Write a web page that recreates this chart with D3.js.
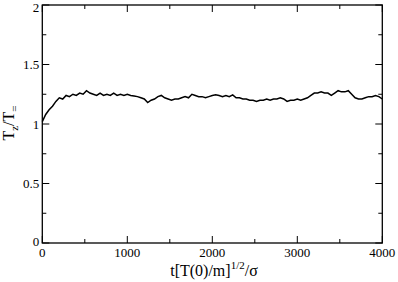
<!DOCTYPE html>
<html><head><meta charset="utf-8">
<script src="https://cdn.jsdelivr.net/npm/d3@7"></script>
<style>body{margin:0;background:#fff}</style>
</head><body><svg id="c" width="398" height="282"></svg>
<script>
const tStep = 40;
const tzValues = [1.02,1.08,1.12,1.15,1.19,1.22,1.21,1.24,1.23,1.25,1.24,1.26,1.25,1.28,1.26,1.25,1.24,1.26,1.24,1.25,
1.24,1.26,1.24,1.25,1.24,1.25,1.24,1.235,1.23,1.22,1.21,1.18,1.20,1.21,1.23,1.24,1.22,1.21,1.20,1.21,
1.21,1.22,1.23,1.22,1.25,1.24,1.23,1.23,1.22,1.23,1.24,1.245,1.24,1.23,1.24,1.23,1.245,1.22,1.22,1.21,
1.21,1.20,1.20,1.19,1.20,1.20,1.21,1.20,1.21,1.21,1.22,1.21,1.19,1.20,1.20,1.21,1.20,1.21,1.22,1.24,
1.26,1.26,1.27,1.26,1.26,1.24,1.26,1.28,1.27,1.27,1.28,1.25,1.22,1.21,1.21,1.22,1.23,1.23,1.24,1.23,1.21];
const tValues = tzValues.map((_, i) => i * tStep);
const xTicks = [0,1000,2000,3000,4000];
const yTicks = [0,0.5,1,1.5,2];
const yTickLabels = ["0","0.5","1","1.5","2"];

const FONT = "Liberation Serif";
const svg = d3.select("#c");
const L = 42.3, T = 5, W = 340, H = 238;
const x = d3.scaleLinear().domain([0,4000]).range([L, L+W]);
const y = d3.scaleLinear().domain([0,2]).range([T+H, T]);
const g = svg.append("g");

g.append("rect").attr("x",L).attr("y",T).attr("width",W).attr("height",H)
 .attr("fill","none").attr("stroke","#000").attr("stroke-width",1.3);

const xMinor = d3.range(0,4001,500);
const yMinor = d3.range(0,2.001,0.25);
xMinor.forEach(v=>{
  const major = v%1000===0; const len = major?7:4;
  g.append("line").attr("x1",x(v)).attr("x2",x(v)).attr("y1",T+H).attr("y2",T+H-len).attr("stroke","#000");
  g.append("line").attr("x1",x(v)).attr("x2",x(v)).attr("y1",T).attr("y2",T+len).attr("stroke","#000");
});
yMinor.forEach(v=>{
  const major = Math.abs(v*2-Math.round(v*2))<1e-6; const len = major?7:4;
  g.append("line").attr("x1",L).attr("x2",L+len).attr("y1",y(v)).attr("y2",y(v)).attr("stroke","#000");
  g.append("line").attr("x1",L+W).attr("x2",L+W-len).attr("y1",y(v)).attr("y2",y(v)).attr("stroke","#000");
});
xTicks.forEach(v=>{
  g.append("text").style("font-family",FONT).attr("x",x(v)).attr("y",T+H+14).attr("text-anchor","middle").attr("font-size",13).text(v);
});
yTicks.forEach((v,i)=>{
  const off = v===0 ? 3 : (v===2 ? 7 : 4.5);
  g.append("text").style("font-family",FONT).attr("x",L-3).attr("y",y(v)+off).attr("text-anchor","end").attr("font-size",13).text(yTickLabels[i]);
});

const line = d3.line().x((d,i)=>x(tValues[i])).y(d=>y(d));
g.append("path").datum(tzValues).attr("d",line).attr("fill","none").attr("stroke","#000").attr("stroke-width",1.5).attr("stroke-linejoin","miter");

const xt = g.append("text").style("font-family",FONT).attr("x",214).attr("y",276).attr("text-anchor","middle").attr("font-size",16);
xt.append("tspan").text("t[T(0)/m]");
xt.append("tspan").attr("dy",-7).attr("font-size",11).text("1/2");
xt.append("tspan").attr("dy",7).text("/σ");

const yt = g.append("text").style("font-family",FONT).attr("transform","translate(14,123) rotate(-90)").attr("text-anchor","middle").attr("font-size",16);
yt.append("tspan").text("T");
yt.append("tspan").attr("dy",4).attr("font-size",11).text("z");
yt.append("tspan").attr("dy",-4).text("/T");
yt.append("tspan").attr("dy",4).attr("font-size",11).text("=");
</script></body></html>
